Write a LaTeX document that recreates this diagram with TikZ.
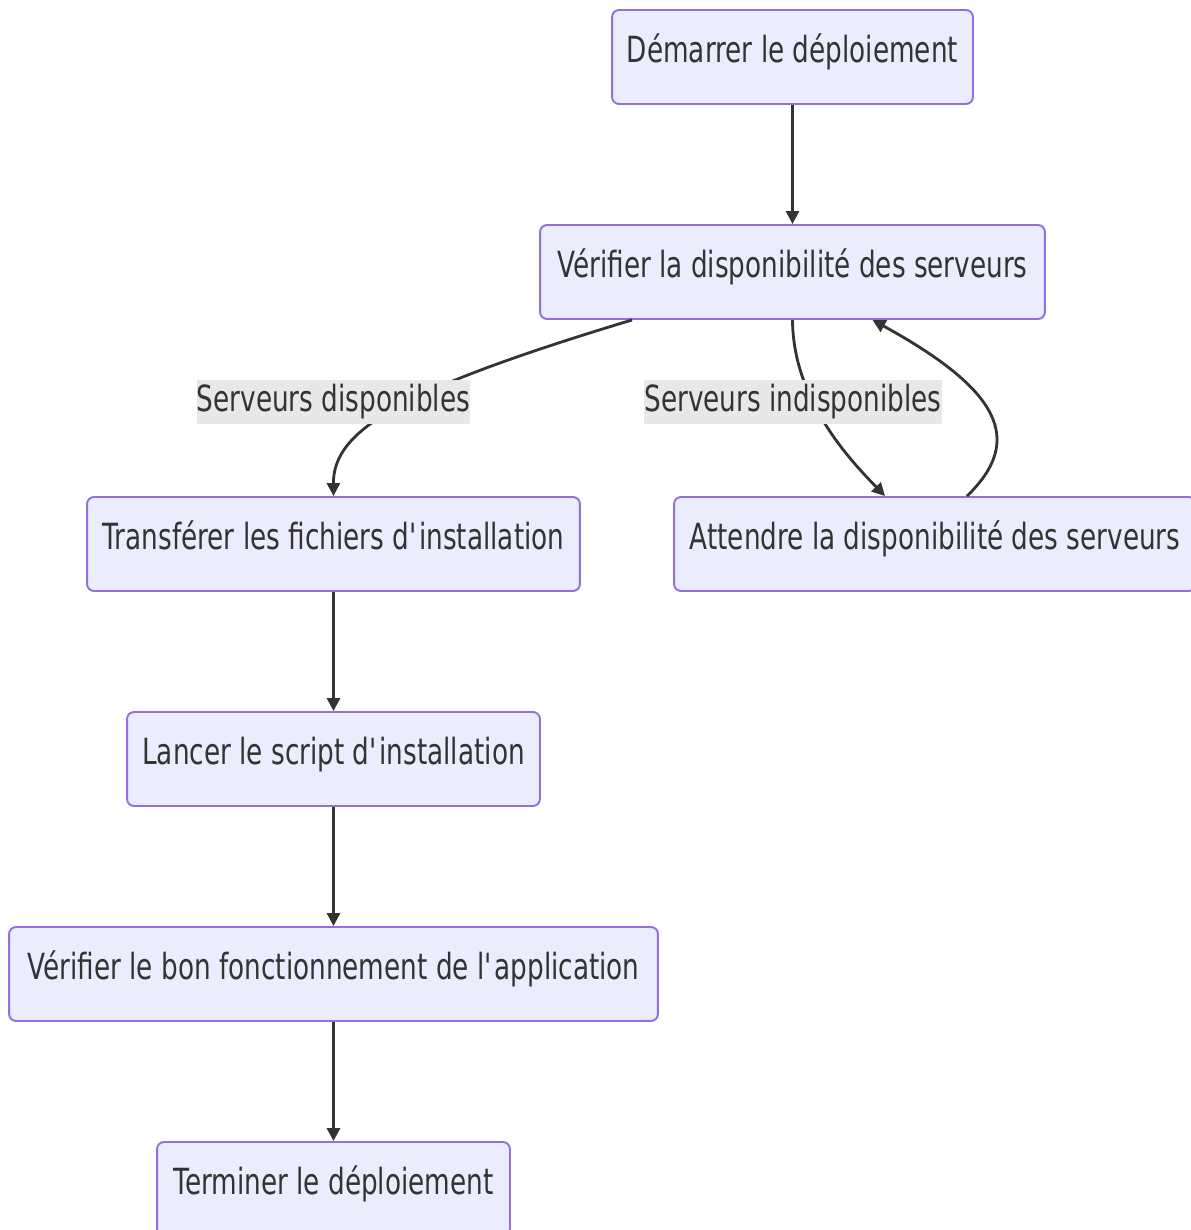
\documentclass[tikz,border=0pt]{standalone}
\usepackage{fontspec}
\setmainfont{DejaVu Sans}[FakeStretch=0.73]
\usetikzlibrary{arrows.meta}
\definecolor{box-fill}{HTML}{ECECFF}
\definecolor{box-line}{HTML}{9370DB}
\definecolor{edge-gray}{HTML}{333333}
\definecolor{label-bg}{HTML}{E8E8E8}

\begin{document}
\begin{tikzpicture}[
    x=0.02cm, y=-0.02cm,
    font=\fontsize{20.5}{24}\selectfont,
    >={Triangle[length=0.26cm, width=0.26cm]},
    stepbox/.style={draw=box-line, fill=box-fill, line width=1.1pt, rounded corners=4pt, text=edge-gray, minimum height=1.88cm, inner xsep=0pt, text depth=0.34cm},
    edgelabel/.style={fill=label-bg, text=edge-gray, minimum height=0.88cm, inner xsep=0pt, inner ysep=0pt},
    flow/.style={->, draw=edge-gray, line width=1.6pt}
]
\useasboundingbox (0,0) rectangle (1190,1230);

\node[stepbox, minimum width=7.22cm] (start) at (792.5,57) {Démarrer le déploiement};
\node[stepbox, minimum width=10.1cm] (check) at (792.5,272) {Vérifier la disponibilité des serveurs};
\node[stepbox, minimum width=9.86cm] (transfer) at (333.5,544) {Transférer les fichiers d{\textquotesingle}installation};
\node[stepbox, minimum width=10.44cm] (wait) at (935,544) {Attendre la disponibilité des serveurs};
\node[stepbox, minimum width=8.26cm] (launch) at (333.5,759) {Lancer le script d{\textquotesingle}installation};
\node[stepbox, minimum width=12.98cm] (test) at (333.5,974) {Vérifier le bon fonctionnement de l{\textquotesingle}application};
\node[stepbox, minimum width=7.06cm] (finish) at (333.5,1189) {Terminer le déploiement};

\draw[flow] (start) -- (check);
\draw[flow] ([xshift=1.86cm]check.south west) .. controls (400,390) and (333,430) .. (transfer.north);
\draw[flow] (check.south) .. controls (793,400) and (850,460) .. ([xshift=-1.0cm]wait.north);
\draw[flow] ([xshift=0.64cm]wait.north) .. controls (1025,440) and (1000,390) .. ([xshift=1.6cm]check.south);
\draw[flow] (transfer) -- (launch);
\draw[flow] (launch) -- (test);
\draw[flow] (test) -- (finish);

\node[edgelabel] (yes) at (333.5,402) {Serveurs disponibles};
\node[edgelabel] (no) at (793,402) {Serveurs indisponibles};
\end{tikzpicture}
\end{document}
